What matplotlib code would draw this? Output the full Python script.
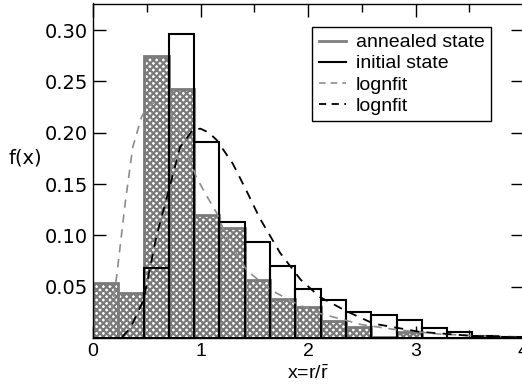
import numpy as np
import matplotlib
matplotlib.use("Agg")
from matplotlib import pyplot as plt

# histogram bins: 17 bins between 0 and 4
bin_edges = np.linspace(0, 4, 18)
annealed = [0.054, 0.044, 0.275, 0.243, 0.120, 0.107, 0.057, 0.038, 0.030,
            0.017, 0.011, 0.001, 0.006, 0.0, 0.0, 0.0, 0.0]
initial = [0.0, 0.0, 0.068, 0.296, 0.191, 0.113, 0.094, 0.070, 0.048,
           0.037, 0.025, 0.022, 0.0175, 0.010, 0.006, 0.002, 0.001]

# lognormal fits
fit_annealed_x = [0.15, 0.22, 0.30, 0.37, 0.45, 0.50, 0.58, 0.65, 0.72, 0.81,
                  0.96, 1.06, 1.15, 1.24, 1.43, 1.65, 1.90, 2.11, 2.50, 2.83,
                  3.20, 3.60, 4.00]
fit_annealed_y = [0.011, 0.060, 0.132, 0.186, 0.215, 0.225, 0.230, 0.229, 0.220,
                  0.200, 0.157, 0.138, 0.122, 0.099, 0.066, 0.047, 0.033, 0.024,
                  0.013, 0.008, 0.004, 0.002, 0.001]
fit_initial_x = [0.27, 0.35, 0.47, 0.59, 0.69, 0.81, 0.93, 1.00, 1.08, 1.15,
                 1.30, 1.43, 1.55, 1.74, 1.93, 2.11, 2.36, 2.61, 3.04, 3.53, 4.00]
fit_initial_y = [0.001, 0.010, 0.037, 0.099, 0.138, 0.186, 0.203, 0.204, 0.200,
                 0.193, 0.170, 0.143, 0.117, 0.083, 0.057, 0.040, 0.026, 0.014,
                 0.006, 0.002, 0.0005]

plt.rcParams['hatch.linewidth'] = 1.6
plt.rcParams['mathtext.fontset'] = 'custom'
plt.rcParams['mathtext.rm'] = 'Liberation Sans'

fig = plt.figure(figsize=(5.22, 3.87), dpi=100)
ax = fig.add_axes([93 / 522, 49 / 387, 430 / 522, 334.5 / 387])

width = bin_edges[1] - bin_edges[0]
ax.bar(bin_edges[:-1], annealed, width=width, align='edge', facecolor='white',
       edgecolor='#7a7a7a', linewidth=2, hatch='xxxxx', zorder=2)
ax.bar(bin_edges[:-1], initial, width=width, align='edge', fill=False,
       edgecolor='black', linewidth=1.5, zorder=3)
ax.plot(fit_annealed_x, fit_annealed_y, color='#8c8c8c', ls=(0, (5, 4)), lw=1.2, zorder=4)
ax.plot(fit_initial_x, fit_initial_y, color='black', ls=(0, (5, 4)), lw=1.3, zorder=4)

ax.set_xlim(0, 4)
ax.set_ylim(0, 0.326)
ax.set_xticks([0, 1, 2, 3, 4])
ax.set_xticks(np.arange(0, 4.01, 0.5), minor=True)
ax.set_yticks([0.05, 0.10, 0.15, 0.20, 0.25, 0.30])
ax.set_yticklabels(['0.05', '0.10', '0.15', '0.20', '0.25', '0.30'], fontsize=14)
ax.set_xticklabels(['0', '1', '2', '3', '4'], family='Liberation Sans', fontsize=14)
ax.tick_params(direction='in', top=True, right=True, length=9, width=1)
ax.tick_params(which='minor', direction='in', top=True, bottom=True, length=6, width=1)
for s in ax.spines.values():
    s.set_linewidth(1)

ax.set_xlabel(r'x=r/$\bar{\mathrm{r}}$', family='Liberation Sans', fontsize=14, labelpad=3)
ax.set_ylabel('f(x)', fontsize=14, rotation=0, ha='center', va='center')
ax.yaxis.set_label_coords(-0.158, 0.538)

handles = [
    plt.Line2D([], [], color='#7f7f7f', lw=2),
    plt.Line2D([], [], color='black', lw=1.5),
    plt.Line2D([], [], color='#8c8c8c', lw=1.2, ls=(0, (4, 3))),
    plt.Line2D([], [], color='black', lw=1.3, ls=(0, (4, 3))),
]
labels = ['annealed state', 'initial state', 'lognfit', 'lognfit']
leg = ax.legend(handles, labels, loc='upper right', bbox_to_anchor=(0.926, 0.930),
                prop={'family': 'Liberation Sans', 'size': 14}, fancybox=False,
                framealpha=1, edgecolor='black', labelspacing=0.18,
                handlelength=1.4, handletextpad=0.5, borderpad=0.35, borderaxespad=0)
leg.get_frame().set_linewidth(1)

fig.savefig('out.png', dpi=100)
